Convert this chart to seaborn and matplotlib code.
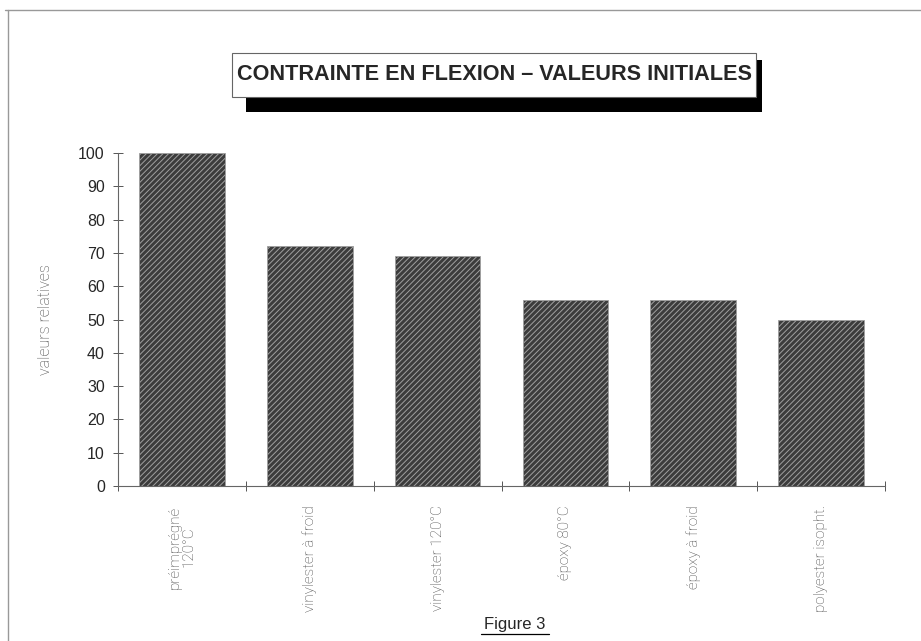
import numpy as np
import pandas as pd
import matplotlib
matplotlib.use("Agg")
import matplotlib.pyplot as plt
import seaborn as sns
from matplotlib.patches import Rectangle
from matplotlib.lines import Line2D

# data
categories = ["préimprégné\n120°C", "vinylester à froid", "vinylester 120°C",
              "époxy 80°C", "époxy à froid", "polyester isopht."]
values = [100, 72, 69, 56, 56, 50]
yticks = [0, 10, 20, 30, 40, 50, 60, 70, 80, 90, 100]

title = "CONTRAINTE EN FLEXION – VALEURS INITIALES"
ylabel = "valeurs relatives"
caption = "Figure 3"

df = pd.DataFrame({"cat": categories, "val": values})

sns.set_style("white")
plt.rcParams["font.family"] = ["Liberation Sans", "DejaVu Sans"]
plt.rcParams["hatch.linewidth"] = 0.7

W, H = 921, 641
fig = plt.figure(figsize=(W / 100, H / 100), dpi=100)

def fx(px):
    return px / W

def fy(py):
    return 1 - py / H

ax = fig.add_axes([fx(118), fy(486), fx(885) - fx(118), fy(153) - fy(486)])

sns.barplot(data=df, x="cat", y="val", color="#3c3c3c", width=0.67,
            edgecolor="#a0a0a0", linewidth=0.6, saturation=1, ax=ax)
for p in ax.patches:
    p.set_hatch("//////")

ax.set_xlim(-0.5, len(categories) - 0.5)
ax.set_ylim(0, 100)
ax.set_yticks(yticks)
ax.set_yticklabels([str(t) for t in yticks], fontsize=11.5)
ax.tick_params(axis="y", left=True, direction="inout", length=7, width=0.7,
               color="#555", pad=6)

# x ticks between categories, labels at centres
light = ["Roboto", "DejaVu Sans"]
ax.set_xticks(np.arange(len(categories)))
ax.set_xticklabels(categories, rotation=90, fontsize=11, color="#444",
                   fontfamily=light, fontweight="light", linespacing=0.95)
ax.set_xticks(np.arange(len(categories) + 1) - 0.5, minor=True)
ax.tick_params(axis="x", which="major", bottom=True, length=0, pad=14)
ax.tick_params(axis="x", which="minor", bottom=True, direction="inout",
               length=7, width=0.7, color="#555")

ax.set_xlabel("")
ax.set_ylabel(ylabel, fontsize=11.5, color="#444", fontfamily=light,
              fontweight="light")
ax.yaxis.set_label_coords(-0.085, 0.5)

sns.despine(ax=ax)
for s in ["left", "bottom"]:
    ax.spines[s].set_color("#666")
    ax.spines[s].set_linewidth(0.8)

# page frame lines
fig.add_artist(Line2D([fx(5), 1.0], [fy(10), fy(10)], color="#999", lw=1.0))
fig.add_artist(Line2D([fx(8), fx(8)], [fy(10), 0.0], color="#999", lw=1.0))

# title box with shadow
fig.add_artist(Rectangle((fx(246), fy(112)), fx(762) - fx(246), fy(60) - fy(112),
                         facecolor="black", edgecolor="none"))
fig.add_artist(Rectangle((fx(232), fy(97)), fx(756) - fx(232), fy(53) - fy(97),
                         facecolor="white", edgecolor="#666", lw=0.8))
fig.text(fx(494), fy(75), title, ha="center", va="center",
         fontsize=15.6, fontweight="bold")

# caption, underlined
fig.text(fx(515), fy(625), caption, ha="center", va="center", fontsize=12)
fig.add_artist(Line2D([fx(481), fx(549)], [fy(634), fy(634)], color="black", lw=0.9))

fig.savefig("out.png", dpi=100)
